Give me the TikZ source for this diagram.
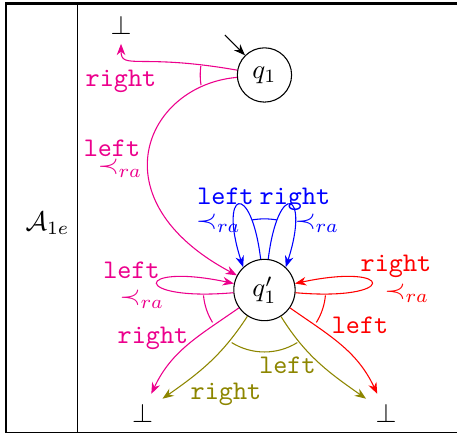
\documentclass[tikz,border=0pt]{standalone}
\usepackage{amsmath,amssymb}
\usepackage{tikz}
\usetikzlibrary{arrows.meta}

\begin{document}
\begin{tikzpicture}[
    >={Stealth[length=4.2pt,width=3.2pt]},
    stnode/.style={circle, draw},
    act/.style={font=\ttfamily}
]
    \useasboundingbox (0,0) rectangle (5.974, 5.673);

    % ==== Table frame ====
    \draw[line width=0.8pt] (0.076, 0.017) -- (0.076, 5.627) -- (5.974, 5.627);
    \draw (0.076, 0.017) -- (5.974, 0.017);
    \draw (1.016, 0.017) -- (1.016, 5.627);
    \node (aut) at (0.621, 2.758) {$\mathcal{A}_{1e}$};

    % ==== States ====
    \node[stnode] (q1) at (3.457, 4.693) {$q_1$};
    \node[stnode] (q1p) at (3.457, 1.882) {$q_1'$};
    \node (botT) at (1.582, 5.346) {$\bot$};
    \node (botL) at (1.863, 0.278) {$\bot$};
    \node (botR) at (5.046, 0.278) {$\bot$};

    % Initial arrow
    \coordinate (init) at (2.94, 5.216);
    \draw[->] (init) -- (q1);

    % ==== Moves from q1 ====
    \draw[magenta, ->] (q1) to[out=170, in=-90, out distance=1.3cm, in distance=0.35cm] (botT);
    \draw[magenta, ->] (q1) to[out=185, in=152, out distance=1.2cm, in distance=2.1cm] (q1p);
    \draw[magenta] ([shift={(172:0.84)}]q1.center) arc[start angle=172, end angle=189, radius=0.84];
    \node[act, magenta] (r1) at (1.582, 4.614) {right};
    \node[act, magenta] (l1) at (1.464, 3.739) {left};
    \node[magenta] (o1) at (1.569, 3.477) {$\prec_{ra}$};

    % ==== Moves from q1' ====
    % blue loops on top
    \draw[blue, ->] (q1p.97) to[out=97, in=108, distance=1.05cm] (q1p.133);
    \draw[blue, ->] (q1p.83) to[out=83, in=72, distance=1.05cm] (q1p.47);
    \draw[blue] ([shift={(80:0.93)}]q1p.center) arc[start angle=80, end angle=100, radius=0.93];
    \node[act, blue] (lb) at (2.948, 3.104) {left};
    \node[blue] (ob1) at (2.856, 2.758) {$\prec_{ra}$};
    \node[act, blue] (rb) at (3.856, 3.072) {right};
    \node[blue] (ob2) at (4.144, 2.758) {$\prec_{ra}$};

    % pink loop and pink exit
    \draw[magenta, ->] (q1p) to[out=185, in=168, distance=1.35cm] (q1p);
    \draw[magenta, ->] (q1p) to[out=215, in=65] (botL);
    \draw[magenta] ([shift={(185:0.8)}]q1p.center) arc[start angle=185, end angle=212, radius=0.8];
    \node[act, magenta] (l2) at (1.719, 2.144) {left};
    \node[magenta] (o2) at (1.856, 1.765) {$\prec_{ra}$};
    \node[act, magenta] (r2) at (2.0, 1.255) {right};

    % red loop and red exit
    \draw[red, ->] (q1p) to[out=-5, in=12, distance=1.35cm] (q1p);
    \draw[red, ->] (q1p) to[out=-35, in=115] (botR);
    \draw[red] ([shift={(328:0.8)}]q1p.center) arc[start angle=328, end angle=355, radius=0.8];
    \node[act, red] (r3) at (5.176, 2.196) {right};
    \node[red] (o3) at (5.320, 1.843) {$\prec_{ra}$};
    \node[act, red] (l3) at (4.706, 1.425) {left};

    % olive exits
    \draw[olive, ->] (q1p) to[out=237, in=35] (botL);
    \draw[olive, ->] (q1p) to[out=-58, in=145] (botR);
    \draw[olive] ([shift={(238:0.81)}]q1p.center) arc[start angle=238, end angle=302, radius=0.81];
    \node[act, olive] (l4) at (3.758, 0.902) {left};
    \node[act, olive] (r4) at (2.954, 0.523) {right};
\end{tikzpicture}
\end{document}
